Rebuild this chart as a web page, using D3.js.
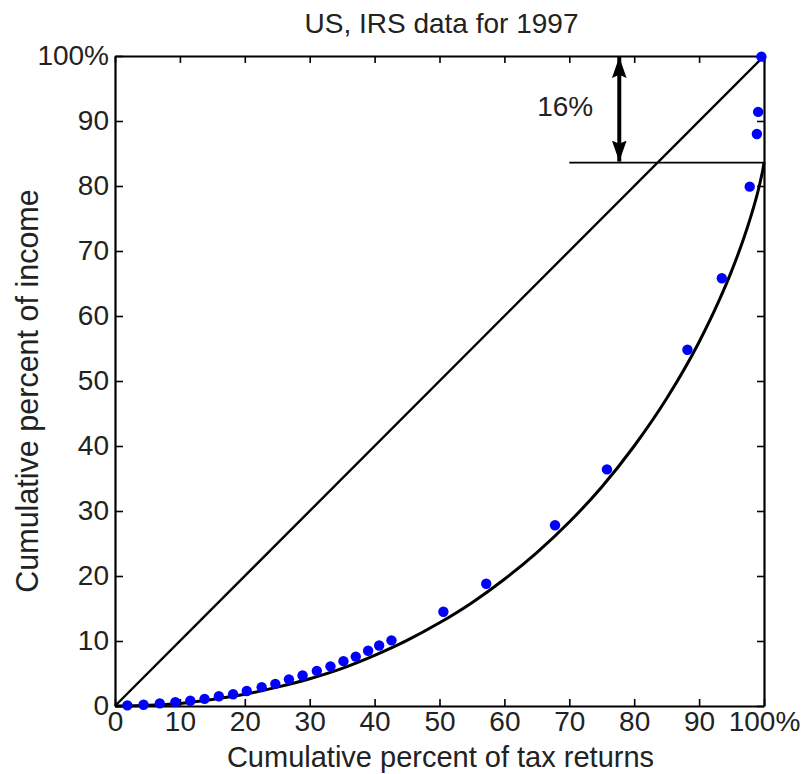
<!DOCTYPE html>
<html>
<head>
<meta charset="utf-8">
<script src="https://cdn.jsdelivr.net/npm/d3@7"></script>
<style>
  body { margin: 0; background: #fff; }
  text { font-family: "Liberation Sans", Arial, sans-serif; fill: #222; }
</style>
</head>
<body>
<div class="canvas"></div>
<script>
// IRS returns: cumulative percent of tax returns vs cumulative percent of income
const returnsPct = [1.9, 4.4, 6.9, 9.3, 11.6, 13.8, 16.0, 18.2, 20.3, 22.6, 24.7, 26.8, 28.9,
  31.1, 33.2, 35.2, 37.1, 39.0, 40.7, 42.6, 50.6, 57.2, 67.8, 75.8, 88.2, 93.5, 97.8, 98.9, 99.1, 99.6];
const incomePct = [0.1, 0.2, 0.4, 0.6, 0.8, 1.1, 1.5, 1.8, 2.3, 2.9, 3.4, 4.1, 4.7,
  5.4, 6.1, 6.9, 7.6, 8.5, 9.3, 10.1, 14.5, 18.8, 27.8, 36.4, 54.8, 65.8, 79.9, 88.0, 91.4, 99.9];

// fitted curve
const fitX = [0, 5, 10, 15, 20, 25, 30, 35, 40, 45, 50, 55, 60, 65, 70, 75, 80, 85, 90, 93, 95, 97, 98, 99, 99.5, 99.8, 100];
const fitY = [0, 0.1, 0.4, 1.0, 1.8, 2.9, 4.2, 5.8, 7.8, 10.1, 12.8, 15.9, 19.5, 23.6, 28.3, 33.7, 40.0, 47.3, 56.0, 62.2, 66.9, 72.3, 75.4, 78.9, 81.0, 82.4, 83.6];

// equality line and the 16% annotation
const equalX = [0, 100];
const equalY = [0, 100];
const tailLevel = 83.6;
const tailLineFrom = 70;
const arrowAt = 77.7;
const arrowLabel = "16%";

const ticks = [0, 10, 20, 30, 40, 50, 60, 70, 80, 90, 100];
const tickLabel = (d) => (d === 100 ? "100%" : d);

const title = "US, IRS data for 1997";
const xLabel = "Cumulative percent of tax returns";
const yLabel = "Cumulative percent of income";

const margin = { top: 56, right: 42, bottom: 68, left: 115 };
const width = 806;
const height = 774;
const graphWidth = width - margin.left - margin.right;
const graphHeight = height - margin.top - margin.bottom;

const svg = d3
  .select(".canvas")
  .append("svg")
  .attr("width", width)
  .attr("height", height);

const graph = svg
  .append("g")
  .attr("transform", `translate(${margin.left},${margin.top})`);

const x = d3.scaleLinear().domain([0, 100]).range([0, graphWidth]);
const y = d3.scaleLinear().domain([0, 100]).range([graphHeight, 0]);

// axes, ticks pointing in on all four sides
const styleAxis = (g) => {
  g.selectAll("path, line").attr("stroke", "#000").attr("stroke-width", 1.6);
  g.selectAll("text").attr("font-size", 28).attr("fill", "#222");
};

graph
  .append("g")
  .attr("transform", `translate(0,${graphHeight})`)
  .call(d3.axisBottom(x).tickValues(ticks).tickFormat(tickLabel).tickSizeInner(-7).tickSizeOuter(0).tickPadding(5))
  .call(styleAxis);

graph
  .append("g")
  .call(d3.axisLeft(y).tickValues(ticks).tickFormat(tickLabel).tickSizeInner(-8).tickSizeOuter(0).tickPadding(6))
  .call(styleAxis);

graph
  .append("g")
  .call(d3.axisTop(x).tickValues(ticks).tickFormat("").tickSizeInner(-7).tickSizeOuter(0))
  .call(styleAxis);

graph
  .append("g")
  .attr("transform", `translate(${graphWidth},0)`)
  .call(d3.axisRight(y).tickValues(ticks).tickFormat("").tickSizeInner(-7).tickSizeOuter(0))
  .call(styleAxis);

graph.selectAll(".domain").attr("stroke-width", 2.2);

// equality diagonal
const line = d3
  .line()
  .x((d) => x(d[0]))
  .y((d) => y(d[1]));

graph
  .append("path")
  .datum(d3.zip(equalX, equalY))
  .attr("fill", "none")
  .attr("stroke", "#000")
  .attr("stroke-width", 2.4)
  .attr("d", line);

// fitted curve
graph
  .append("path")
  .datum(d3.zip(fitX, fitY))
  .attr("fill", "none")
  .attr("stroke", "#000")
  .attr("stroke-width", 3)
  .attr("d", line.curve(d3.curveMonotoneX));

// horizontal level of the tail
graph
  .append("line")
  .attr("x1", x(tailLineFrom))
  .attr("x2", x(100))
  .attr("y1", y(tailLevel))
  .attr("y2", y(tailLevel))
  .attr("stroke", "#000")
  .attr("stroke-width", 1.8);

// double arrow
const defs = svg.append("defs");
defs
  .append("marker")
  .attr("id", "head")
  .attr("markerUnits", "userSpaceOnUse")
  .attr("viewBox", "0 0 20 16")
  .attr("refX", 20)
  .attr("refY", 8)
  .attr("markerWidth", 21)
  .attr("markerHeight", 17)
  .attr("orient", "auto-start-reverse")
  .append("path")
  .attr("d", "M0,1 L20,8 L0,15 L3,8 Z")
  .attr("fill", "#000");

graph
  .append("line")
  .attr("x1", x(arrowAt))
  .attr("x2", x(arrowAt))
  .attr("y1", y(100) + 1)
  .attr("y2", y(tailLevel) - 1)
  .attr("stroke", "#000")
  .attr("stroke-width", 4)
  .attr("marker-start", "url(#head)")
  .attr("marker-end", "url(#head)");

graph
  .append("text")
  .attr("x", x(arrowAt) - 26)
  .attr("y", y(92) + 8)
  .attr("text-anchor", "end")
  .attr("font-size", 28)
  .text(arrowLabel);

// data points
graph
  .selectAll("circle")
  .data(d3.zip(returnsPct, incomePct))
  .enter()
  .append("circle")
  .attr("r", 5.2)
  .attr("fill", "#0000ff")
  .attr("cx", (d) => x(d[0]))
  .attr("cy", (d) => y(d[1]));

// titles
svg
  .append("text")
  .attr("x", margin.left + graphWidth / 2 + 2)
  .attr("y", 33)
  .attr("text-anchor", "middle")
  .attr("font-size", 28)
  .text(title);

svg
  .append("text")
  .attr("x", margin.left + graphWidth / 2 + 1)
  .attr("y", 767)
  .attr("text-anchor", "middle")
  .attr("font-size", 29)
  .text(xLabel);

svg
  .append("text")
  .attr("transform", `translate(38,${margin.top + graphHeight / 2 + 10}) rotate(-90)`)
  .attr("text-anchor", "middle")
  .attr("font-size", 30.5)
  .text(yLabel);
</script>
</body>
</html>
